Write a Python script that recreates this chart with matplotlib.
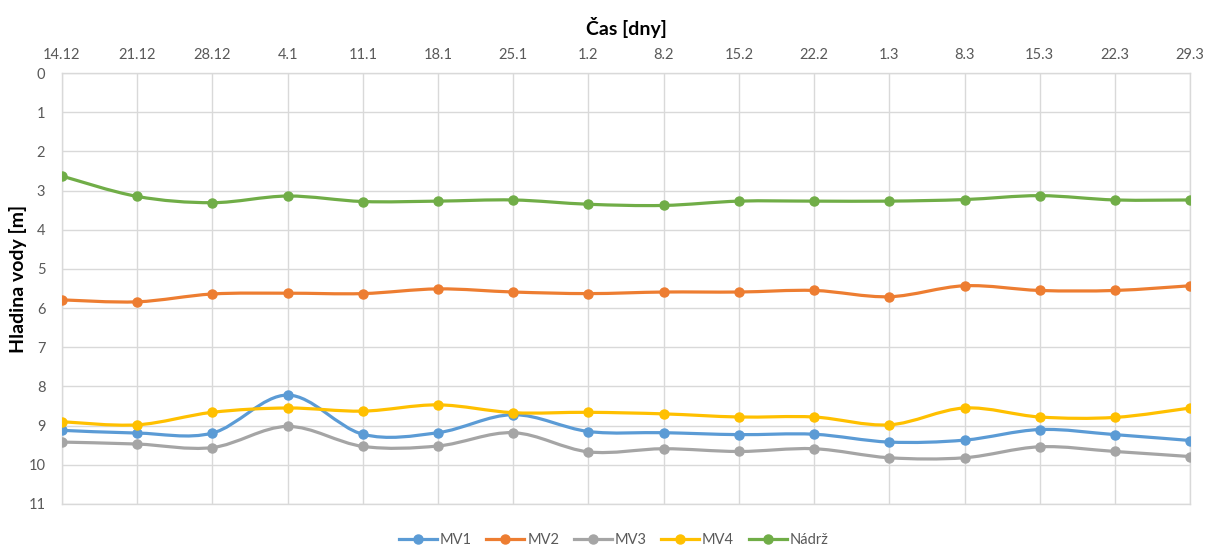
import numpy as np
import matplotlib
matplotlib.use("Agg")
import matplotlib.pyplot as plt
from matplotlib.path import Path
from matplotlib.patches import PathPatch
from matplotlib.lines import Line2D

dates = ["14.12", "21.12", "28.12", "4.1", "11.1", "18.1", "25.1", "1.2",
         "8.2", "15.2", "22.2", "1.3", "8.3", "15.3", "22.3", "29.3"]

mv1 = [9.12, 9.19, 9.19, 8.22, 9.22, 9.18, 8.72, 9.15,
       9.18, 9.23, 9.22, 9.42, 9.37, 9.10, 9.23, 9.38]
mv2 = [5.79, 5.84, 5.64, 5.62, 5.63, 5.51, 5.59, 5.63,
       5.59, 5.59, 5.55, 5.71, 5.43, 5.55, 5.55, 5.43]
mv3 = [9.42, 9.47, 9.56, 9.02, 9.53, 9.52, 9.18, 9.67,
       9.59, 9.66, 9.59, 9.82, 9.82, 9.54, 9.66, 9.79]
mv4 = [8.90, 8.98, 8.66, 8.55, 8.63, 8.47, 8.67, 8.66,
       8.70, 8.78, 8.78, 8.98, 8.55, 8.78, 8.79, 8.55]
nadrz = [2.63, 3.15, 3.31, 3.14, 3.28, 3.27, 3.24, 3.35,
         3.38, 3.27, 3.27, 3.27, 3.23, 3.13, 3.24, 3.24]

series = [("MV1", mv1, "#5B9BD5"), ("MV2", mv2, "#ED7D31"),
          ("MV3", mv3, "#A5A5A5"), ("MV4", mv4, "#FFC000"),
          ("Nádrž", nadrz, "#70AD47")]

plt.rcParams["font.family"] = ["Lato", "DejaVu Sans"]

fig = plt.figure(figsize=(12.08, 5.49), dpi=100)
ax = fig.add_axes([0.0513, 0.082, 0.934, 0.785])


def smooth_path(x, y):
    """Cubic Bezier path through the points (Catmull-Rom style smoothing)."""
    x = np.asarray(x, float)
    y = np.asarray(y, float)
    n = len(x)
    verts = [(x[0], y[0])]
    codes = [Path.MOVETO]
    for i in range(n - 1):
        p0 = (x[i - 1], y[i - 1]) if i > 0 else (x[i], y[i])
        p1 = (x[i], y[i])
        p2 = (x[i + 1], y[i + 1])
        p3 = (x[i + 2], y[i + 2]) if i + 2 < n else (x[i + 1], y[i + 1])
        c1 = (p1[0] + (p2[0] - p0[0]) / 6, p1[1] + (p2[1] - p0[1]) / 6)
        c2 = (p2[0] - (p3[0] - p1[0]) / 6, p2[1] - (p3[1] - p1[1]) / 6)
        verts += [c1, c2, p2]
        codes += [Path.CURVE4] * 3
    return Path(verts, codes)


xs = np.arange(len(dates))
handles = []
for name, vals, col in series:
    patch = PathPatch(smooth_path(xs, vals), facecolor="none", edgecolor=col,
                      lw=2.3, capstyle="round", joinstyle="round", zorder=3)
    ax.add_patch(patch)
    ax.plot(xs, vals, "o", color=col, ms=6.5, zorder=4)
    handles.append(Line2D([], [], color=col, lw=2.3, marker="o", ms=6.5))

ax.set_xlim(0, len(dates) - 1)
ax.set_ylim(11, 0)
ax.set_yticks(range(0, 12))
ax.set_xticks(xs)
ax.set_xticklabels(dates)
ax.xaxis.tick_top()
ax.xaxis.set_label_position("top")
ax.tick_params(axis="both", length=0, colors="#595959", labelsize=10.5)
ax.tick_params(axis="x", pad=8)
ax.tick_params(axis="y", pad=12)
ax.grid(True, color="#D9D9D9", lw=1.0)
ax.set_axisbelow(True)
for sp in ax.spines.values():
    sp.set_color("#D9D9D9")
    sp.set_linewidth(1.0)

ax.set_xlabel("Čas [dny]", fontsize=14, fontweight="bold", labelpad=9)
ax.set_ylabel("Hladina vody [m]", fontsize=14, fontweight="bold")
ax.yaxis.set_label_coords(-0.031, 0.522)

fig.legend(handles, [s[0] for s in series], loc="center",
           bbox_to_anchor=(0.508, 0.017), ncol=5, frameon=False,
           fontsize=10.5, handlelength=2.6, columnspacing=1.0,
           handletextpad=0.2, labelcolor="#595959")

fig.savefig("out.png", dpi=100)
